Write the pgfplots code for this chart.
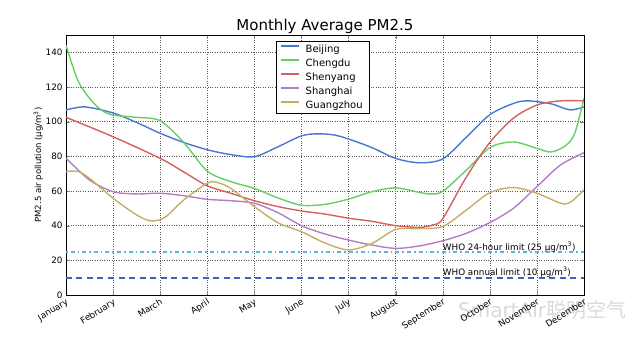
\documentclass[border=0pt]{standalone}
\usepackage{pgfplots}
\pgfplotsset{compat=1.18}
\usepackage{fontspec}
\setmainfont{DejaVu Sans}
\newfontfamily\cjk{Noto Sans CJK SC}
\definecolor{cB}{HTML}{4878CF}
\definecolor{cC}{HTML}{6ACC65}
\definecolor{cS}{HTML}{D65F5F}
\definecolor{cSh}{HTML}{B47CC7}
\definecolor{cG}{HTML}{C4AD66}
\definecolor{cW}{HTML}{5DB3D8}
\definecolor{cA}{HTML}{3565C0}
\begin{document}
\begin{tikzpicture}
\begin{axis}[
  at={(0pt,0pt)}, anchor=south west,
  scale only axis, width=518pt, height=260pt,
  xmin=0, xmax=11, ymin=0, ymax=150,
  xtick={0,...,11},
  xticklabels={January,February,March,April,May,June,July,August,September,October,November,December},
  xticklabel style={rotate=32, anchor=north east, font=\fontsize{8.8}{10}\selectfont, inner sep=2pt},
  ytick={0,20,...,140},
  yticklabel style={font=\fontsize{8.8}{10}\selectfont},
  /pgf/number format/assume math mode=true,
  grid=major, grid style={black!65, line width=0.4pt, dash pattern=on 0.8pt off 1.6pt},
  axis line style={line width=0.8pt},
  major tick length=4pt,
  title={Monthly Average PM2.5},
  title style={font=\fontsize{15}{17}\selectfont, at={(axis description cs:0.5,1)}, anchor=base, yshift=-2pt},
  ylabel={PM2.5 air pollution (µg/m\textsuperscript{3})},
  ylabel style={font=\fontsize{8.5}{10}\selectfont, yshift=-4pt},
  legend style={at={(axis description cs:0.405,0.977)}, anchor=north west, draw=black, line width=0.8pt, font=\fontsize{10}{12}\selectfont, row sep=0.9pt, column sep=5pt, inner xsep=4.5pt, inner ysep=1.5pt},
  legend image code/.code={\fill[#1, draw=none] (0pt,2.2pt) rectangle (18pt,4pt);},
  legend cell align=left,
  every axis plot/.append style={line width=1.4pt},
]
\addplot[color=cB, smooth] coordinates {(0,106.7)(0.4,108.5)(1,105)(1.5,99.5)(2,93.3)(2.5,88)(3,83.8)(3.5,81)(4,79.8)(4.5,85.5)(5,91.8)(5.35,93)(5.7,92.3)(6,90)(6.5,85)(7,78.8)(7.5,76.3)(8,78.5)(8.5,91)(9,104)(9.5,110.5)(9.8,112)(10.3,110.3)(10.7,106.8)(11,108.5)};
\addlegendentry{Beijing}
\addplot[color=cC, smooth] coordinates {(0,144)(0.25,124)(0.5,113.5)(0.75,106.7)(1,103.8)(1.5,102.5)(2,100.5)(2.5,88)(3,71.5)(3.5,65.4)(4,61.5)(4.5,56)(5,51.8)(5.5,52.3)(6,55.3)(6.5,59.6)(7,61.8)(7.5,59.2)(7.75,58.3)(8,59.8)(8.5,72)(9,85)(9.5,88.3)(10,84.6)(10.3,82.5)(10.6,86)(10.8,93)(11,113.5)};
\addlegendentry{Chengdu}
\addplot[color=cS, smooth] coordinates {(0,102.5)(1,91.3)(2,78.8)(2.5,71)(3,63)(3.5,58.7)(4,54.4)(4.5,51)(5,48.5)(5.5,46.7)(6,44.3)(6.5,42.5)(7,40)(7.5,39)(7.8,40.5)(8,44)(8.5,68)(9,88)(9.5,102)(10,109.6)(10.5,112)(11,112)};
\addlegendentry{Shenyang}
\addplot[color=cSh, smooth] coordinates {(0,79)(0.5,66.3)(1,59.6)(1.5,58.3)(2,58.7)(2.5,57.3)(3,55.2)(3.5,54.4)(4,52.9)(4.5,47.5)(5,40)(5.5,35.2)(6,31.7)(6.5,28.8)(7,26.9)(7.5,28.3)(8,31.3)(8.5,35.6)(9,41.8)(9.5,50)(10,62.5)(10.5,75)(11,82.1)};
\addlegendentry{Shanghai}
\addplot[color=cG, smooth] coordinates {(0,71.2)(0.25,71.3)(0.5,67.3)(1,55.8)(1.5,46.2)(1.8,42.8)(2.1,44.8)(2.5,54.8)(3,64.5)(3.2,65)(3.5,61.5)(4,51)(4.5,41.7)(5,36.5)(5.5,30)(6,26)(6.5,29.8)(7,37.8)(7.5,38.3)(8,39.5)(8.5,49)(9,59)(9.5,62)(10,58.7)(10.5,53)(10.7,53.3)(11,60.6)};
\addlegendentry{Guangzhou}
\addplot[color=cW, line width=1.8pt, dash pattern=on 1.6pt off 3pt on 4pt off 3pt, forget plot] coordinates {(0,25)(11,25)};
\addplot[color=cA, line width=1.8pt, dash pattern=on 6pt off 4.5pt, forget plot] coordinates {(0,10)(11,10)};
\node[anchor=west, font=\fontsize{8.8}{10}\selectfont, inner sep=0pt] at (axis cs:8.0,27.7) {WHO 24-hour limit (25 µg/m\textsuperscript{3})};
\node[anchor=west, font=\fontsize{8.8}{10}\selectfont, inner sep=0pt] at (axis cs:8.0,13.3) {WHO annual limit (10 µg/m\textsuperscript{3})};
\end{axis}
\node[anchor=west, text=black, opacity=0.15, font=\fontsize{20}{22}\selectfont, inner sep=0pt] at (392pt,-15pt) {SmartAir{\cjk 聪明空气}};
\useasboundingbox (-66pt,-48pt) rectangle (574pt,295pt);
\end{tikzpicture}
\end{document}
